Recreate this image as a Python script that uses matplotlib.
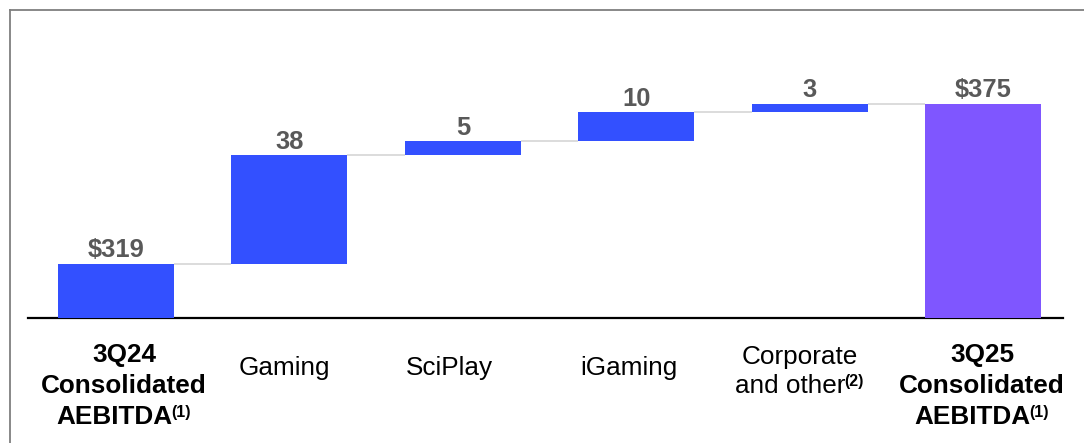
import matplotlib.pyplot as plt
from matplotlib.lines import Line2D
from matplotlib.transforms import IdentityTransform

# waterfall data ($M)
start_value = 319
end_value = 375
step_names = ['Gaming', 'SciPlay', 'iGaming', 'Corporate and other']
step_values = [38, 5, 10, 3]
value_labels = ['$319', '38', '5', '10', '3', '$375']

# category labels: list of (text, superscript, bold) per line
cat_lines = [
    [('3Q24', '', True), ('Consolidated', '', True), ('AEBITDA', '(1)', True)],
    [('Gaming', '', False)],
    [('SciPlay', '', False)],
    [('iGaming', '', False)],
    [('Corporate', '', False), ('and other', '(2)', False)],
    [('3Q25', '', True), ('Consolidated', '', True), ('AEBITDA', '(1)', True)],
]

W, H = 1084, 443
BLUE = '#3350FF'
PURPLE = '#7F56FF'
GREY_TXT = '#595959'
FONT = 'Liberation Sans'

plt.rcParams['font.family'] = [FONT, 'DejaVu Sans']

fig = plt.figure(figsize=(W / 100, H / 100), dpi=100)
ax = fig.add_axes([28 / W, 125 / H, (1063 - 28) / W, (413 - 125) / H])

# bars
n = len(step_values) + 2
bottoms, heights, colors = [0], [start_value], [BLUE]
running = start_value
for v in step_values:
    bottoms.append(running)
    heights.append(v)
    colors.append(BLUE)
    running += v
bottoms.append(0)
heights.append(end_value)
colors.append(PURPLE)

xs = list(range(n))
bw = 0.669
ax.bar(xs, heights, bottom=bottoms, width=bw, color=colors, zorder=3)

# connectors
levels = [start_value]
running = start_value
for v in step_values:
    running += v
    levels.append(running)
for i in range(n - 1):
    ax.plot([i + bw / 2, i + 1 - bw / 2], [levels[i], levels[i]],
            color='#D9D9D9', lw=1.3, zorder=2, solid_capstyle='butt')

ax.set_xlim(-0.5075, 5.461)
ax.set_ylim(300, 400.8)
for s in ['top', 'right', 'left']:
    ax.spines[s].set_visible(False)
ax.spines['bottom'].set_linewidth(1.6)
ax.spines['bottom'].set_color('black')
ax.set_xticks([])
ax.set_yticks([])

# value labels
for i in range(n):
    top = bottoms[i] + heights[i]
    ax.annotate(value_labels[i], (i, top), xytext=(0, 4.5), textcoords='offset points',
                ha='center', va='baseline', fontsize=18.4, fontweight='bold',
                color=GREY_TXT, zorder=4)

# category labels, placed in pixels under each bar
renderer = fig.canvas.get_renderer()
label_dx = [8, -5.5, -13, -7.5, -9.5, -1]
three_line = [362, 393, 424]
two_line = [364, 393]
one_line = [375]
for i, lines in enumerate(cat_lines):
    cx = ax.transData.transform((i, 300))[0] + label_dx[i]
    ys = {1: one_line, 2: two_line, 3: three_line}[len(lines)]
    for (txt, sup, bold), py in zip(lines, ys):
        wt = 'bold' if bold else 'normal'
        t = fig.text(0, H - py, txt, transform=IdentityTransform(), fontsize=18.8,
                     fontweight=wt, color='black', ha='left', va='baseline')
        w1 = t.get_window_extent(renderer).width
        if sup:
            s = fig.text(0, H - py + 7, sup, transform=IdentityTransform(), fontsize=11.5,
                         fontweight='bold', color='black', ha='left', va='baseline')
            w2 = s.get_window_extent(renderer).width
            x0 = cx - (w1 + w2) / 2
            t.set_x(x0)
            s.set_x(x0 + w1 - 1.5)
        else:
            t.set_x(cx - w1 / 2)

# slide frame
fig.add_artist(Line2D([9.5, W], [H - 9.5, H - 9.5], transform=IdentityTransform(),
                      color='#7F7F7F', lw=1.3))
fig.add_artist(Line2D([9.5, 9.5], [0, H - 9.5], transform=IdentityTransform(),
                      color='#7F7F7F', lw=1.3))

fig.savefig('out.png', dpi=100)
